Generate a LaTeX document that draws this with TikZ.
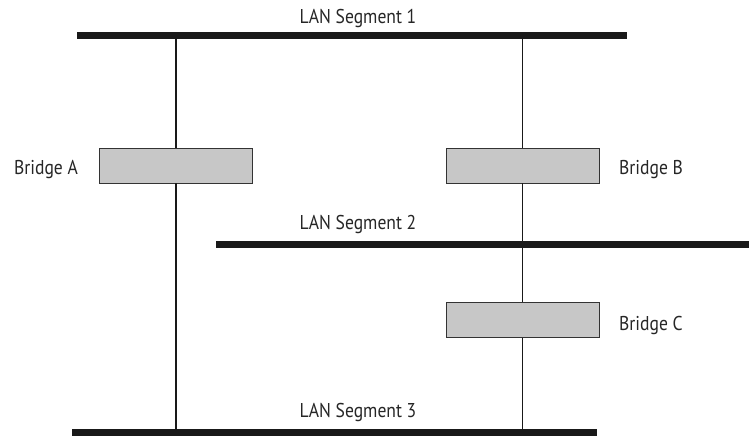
\documentclass[tikz,border=0pt]{standalone}
\usepackage{fontspec}
\setmainfont{PT Sans}
\newfontfamily\lblfont[FakeStretch=0.88]{PT Sans}
\begin{document}
\begin{tikzpicture}[x=1pt,y=-1pt,
  bar/.style={fill=black!90,inner sep=0pt,minimum height=7pt},
  bridge/.style={draw=black!80,line width=0.8pt,fill=black!22,inner sep=0pt,minimum width=153pt,minimum height=35pt},
  lbl/.style={font=\lblfont\fontsize{20}{22}\selectfont,text=black!85,inner sep=0pt,anchor=base},
  wire/.style={line width=1.2pt,black!90}]
\useasboundingbox (0,0) rectangle (749,437);
\node[bar,minimum width=550pt] (s1) at (352,35.5) {};
\node[bar,minimum width=533pt] (s2) at (482.5,244.5) {};
\node[bar,minimum width=525pt] (s3) at (334.5,432.5) {};
\node[bridge] (ba) at (176,165.5) {};
\node[bridge] (bb) at (522.5,165.5) {};
\node[bridge] (bc) at (522.5,320) {};
\node[lbl] (l1) at (358,23.5) {LAN Segment 1};
\node[lbl] (l2) at (358,229.5) {LAN Segment 2};
\node[lbl] (l3) at (358,417.5) {LAN Segment 3};
\node[lbl] (la) at (46,174) {Bridge A};
\node[lbl,anchor=base west] (lb) at (619,174) {Bridge B};
\node[lbl,anchor=base west] (lc) at (619,330) {Bridge C};
\draw[wire] (ba.north |- s1.south) -- (ba.north);
\draw[wire] (ba.south) -- (ba.south |- s3.north);
\draw[wire] (bb.north |- s1.south) -- (bb.north);
\draw[wire] (bb.south) -- (bc.north);
\draw[wire] (bc.south) -- (bc.south |- s3.north);
\end{tikzpicture}
\end{document}
